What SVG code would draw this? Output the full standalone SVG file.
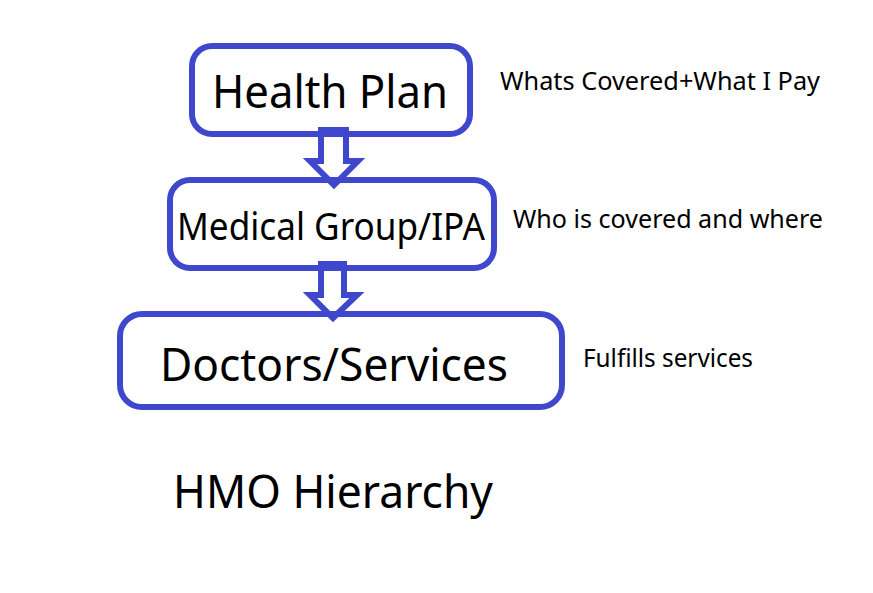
<svg xmlns="http://www.w3.org/2000/svg" width="873" height="593" viewBox="0 0 873 593">
<style>
.box{fill:#ffffff;stroke:#3F48CC;stroke-width:6}
.arrow{fill:none;stroke:#3F48CC;stroke-width:6;stroke-linejoin:miter}
text{font-family:"Noto Sans","Open Sans","Liberation Sans",sans-serif;fill:#000000}
.big{font-size:46px}
.mid{font-size:38px}
.small{font-size:25px}
</style>
<rect width="873" height="593" fill="#ffffff"/>
<g id="node-health-plan">
<rect class="box" x="192" y="46" width="278" height="88" rx="20"/>
<text class="big" x="212" y="108" textLength="236" lengthAdjust="spacingAndGlyphs">Health Plan</text>
</g>
<g id="node-medical-group">
<rect class="box" x="170" y="180" width="324" height="88" rx="20"/>
<text class="mid" x="177" y="240" textLength="308" lengthAdjust="spacingAndGlyphs">Medical Group/IPA</text>
</g>
<g id="node-doctors">
<rect class="box" x="120" y="314" width="442" height="93" rx="22"/>
<text class="big" x="160" y="381" textLength="348" lengthAdjust="spacingAndGlyphs">Doctors/Services</text>
</g>
<g id="connectors">
<polygon class="arrow" points="321,130 346,130 346,161 358,161 334,185 310,161 321,161"/>
<polygon class="arrow" points="321,264 344,264 344,295 357,295 333,318 310,295 321,295"/>
</g>
<g id="labels">
<text class="small" x="500" y="90" textLength="320" lengthAdjust="spacingAndGlyphs">Whats Covered+What I Pay</text>
<text class="small" x="513" y="228" textLength="310" lengthAdjust="spacingAndGlyphs">Who is covered and where</text>
<text class="small" x="583" y="367" textLength="170" lengthAdjust="spacingAndGlyphs">Fulfills services</text>
<text class="big" x="173" y="508" textLength="320" lengthAdjust="spacingAndGlyphs">HMO Hierarchy</text>
</g>
</svg>
